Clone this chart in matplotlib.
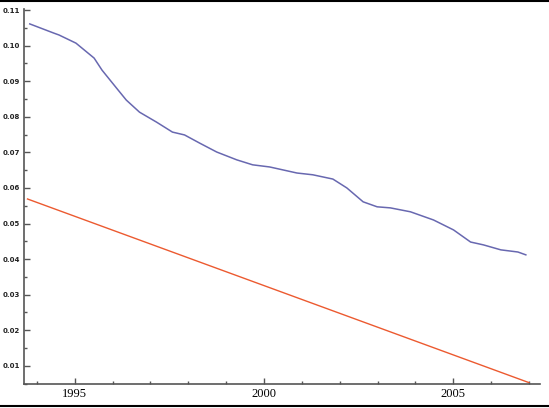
import numpy as np
import matplotlib.pyplot as plt
from matplotlib.lines import Line2D
from matplotlib.ticker import MultipleLocator, FixedLocator

# blue series
blue_years = [1993.81, 1994.45, 1994.58, 1995.03, 1995.51, 1995.72, 1996.10, 1996.36,
              1996.71, 1997.16, 1997.58, 1997.90, 1998.30, 1998.75, 1999.28, 1999.70,
              2000.15, 2000.87, 2001.29, 2001.82, 2002.19, 2002.62, 2002.99, 2003.34,
              2003.87, 2004.48, 2005.01, 2005.46, 2005.80, 2006.26, 2006.71, 2006.92]
blue_values = [0.1061, 0.1035, 0.1030, 0.1007, 0.0965, 0.0931, 0.0881, 0.0847,
               0.0813, 0.0785, 0.0757, 0.0749, 0.0726, 0.0701, 0.0679, 0.0665,
               0.0659, 0.0642, 0.0637, 0.0625, 0.0600, 0.0561, 0.0547, 0.0544,
               0.0533, 0.0510, 0.0482, 0.0448, 0.0440, 0.0426, 0.0420, 0.0412]

# red straight line
red_years = [1993.75, 2007.0]
red_values = [0.0569, 0.0053]

x_labels = [1995, 2000, 2005]
y_ticks = [0.01, 0.02, 0.03, 0.04, 0.05, 0.06, 0.07, 0.08, 0.09, 0.10, 0.11]


def main():
    fig = plt.figure(figsize=(5.49, 4.08), dpi=100)
    ax = fig.add_axes([0.0446, 0.0588, 0.9394, 0.9192])

    ax.plot(blue_years, blue_values, color="#6868b0", lw=1.1)
    ax.plot(red_years, red_values, color="#ec5a30", lw=1.0)

    ax.set_xlim(1993.67, 2007.3)
    ax.set_ylim(0.0049, 0.1103)

    for s in ["top", "right"]:
        ax.spines[s].set_visible(False)
    for s in ["left", "bottom"]:
        ax.spines[s].set_color("#555555")
        ax.spines[s].set_linewidth(1.2)

    ax.xaxis.set_major_locator(FixedLocator(x_labels))
    ax.xaxis.set_minor_locator(MultipleLocator(1))
    ax.set_xticklabels([str(v) for v in x_labels], family="Liberation Serif",
                       fontsize=9)
    ax.yaxis.set_major_locator(FixedLocator(y_ticks))
    ax.yaxis.set_minor_locator(MultipleLocator(0.005))
    ax.set_yticklabels([f"{v:.2f}" for v in y_ticks], fontsize=5,
                       fontweight="bold", color="#222222")

    ax.tick_params(which="both", direction="in", color="#555555")
    ax.tick_params(which="major", length=4, width=1, pad=3)
    ax.tick_params(which="minor", length=2.5, width=1)

    # thin black frame lines at the top and bottom of the image
    fig.add_artist(Line2D([0, 1], [0.998, 0.998], color="black", lw=1.5,
                          transform=fig.transFigure))
    fig.add_artist(Line2D([0, 1], [0.006, 0.006], color="black", lw=1.5,
                          transform=fig.transFigure))

    fig.savefig("out.png", dpi=100)
    plt.close("all")


if __name__ == "__main__":
    main()
